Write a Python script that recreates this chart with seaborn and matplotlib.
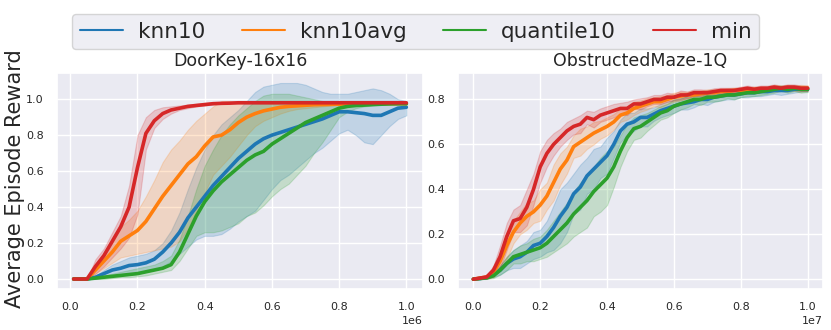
import numpy as np
import pandas as pd
import matplotlib
matplotlib.use("Agg")
import matplotlib.pyplot as plt
import seaborn as sns

# ---------------- data: DoorKey-16x16 (x in 1e6 steps) ----------------
x_door = [0.01, 0.05, 0.075, 0.1, 0.125, 0.15, 0.175, 0.2, 0.225, 0.25,
          0.275, 0.3, 0.325, 0.35, 0.375, 0.4, 0.425, 0.45, 0.475, 0.5,
          0.525, 0.55, 0.575, 0.6, 0.625, 0.65, 0.675, 0.7, 0.725, 0.75,
          0.775, 0.8, 0.825, 0.85, 0.875, 0.9, 0.925, 0.95, 0.975, 1.0]

door_knn10 = [0, 0, 0.01, 0.03, 0.05, 0.06, 0.075, 0.08, 0.09, 0.11,
              0.15, 0.20, 0.26, 0.34, 0.40, 0.46, 0.52, 0.57, 0.62, 0.67,
              0.71, 0.75, 0.78, 0.80, 0.815, 0.83, 0.845, 0.86, 0.875, 0.89,
              0.91, 0.93, 0.93, 0.925, 0.92, 0.91, 0.91, 0.93, 0.95, 0.955]
door_knn10_lo = [0, 0, 0, 0.01, 0.02, 0.02, 0.03, 0.03, 0.04, 0.05,
                 0.07, 0.10, 0.14, 0.18, 0.22, 0.24, 0.24, 0.25, 0.28, 0.32,
                 0.35, 0.38, 0.44, 0.50, 0.55, 0.58, 0.62, 0.66, 0.70, 0.73,
                 0.77, 0.81, 0.83, 0.80, 0.76, 0.75, 0.80, 0.85, 0.89, 0.91]
door_knn10_hi = [0, 0, 0.02, 0.05, 0.08, 0.10, 0.12, 0.13, 0.14, 0.16,
                 0.20, 0.27, 0.37, 0.50, 0.62, 0.72, 0.80, 0.86, 0.90, 0.94,
                 0.99, 1.04, 1.07, 1.08, 1.09, 1.09, 1.09, 1.08, 1.06, 1.04,
                 1.03, 1.03, 1.03, 1.04, 1.05, 1.06, 1.05, 1.03, 1.00, 0.99]

door_knn10avg = [0, 0, 0.05, 0.10, 0.15, 0.21, 0.24, 0.27, 0.32, 0.39,
                 0.46, 0.52, 0.58, 0.64, 0.68, 0.74, 0.79, 0.80, 0.83, 0.87,
                 0.90, 0.92, 0.935, 0.945, 0.955, 0.96, 0.963, 0.966, 0.969, 0.97,
                 0.971, 0.972, 0.973, 0.973, 0.974, 0.974, 0.975, 0.975, 0.975, 0.975]
door_knn10avg_lo = [0, 0, 0.03, 0.06, 0.09, 0.12, 0.13, 0.14, 0.15, 0.16,
                    0.17, 0.18, 0.21, 0.28, 0.38, 0.48, 0.58, 0.63, 0.68, 0.74,
                    0.80, 0.85, 0.88, 0.90, 0.92, 0.935, 0.945, 0.95, 0.955, 0.96,
                    0.965, 0.97, 0.971, 0.972, 0.972, 0.972, 0.972, 0.972, 0.972, 0.972]
door_knn10avg_hi = [0, 0, 0.07, 0.13, 0.20, 0.29, 0.33, 0.38, 0.46, 0.55,
                    0.65, 0.72, 0.77, 0.83, 0.88, 0.92, 0.96, 0.99, 0.99, 0.985,
                    0.98, 0.98, 0.98, 0.98, 0.98, 0.98, 0.98, 0.98, 0.98, 0.98,
                    0.978, 0.978, 0.978, 0.978, 0.978, 0.978, 0.978, 0.978, 0.978, 0.978]

door_quantile10 = [0, 0, 0.005, 0.01, 0.015, 0.02, 0.025, 0.03, 0.04, 0.05,
                   0.06, 0.08, 0.15, 0.25, 0.35, 0.43, 0.49, 0.54, 0.58, 0.62,
                   0.66, 0.69, 0.71, 0.75, 0.78, 0.81, 0.84, 0.87, 0.89, 0.91,
                   0.93, 0.95, 0.96, 0.965, 0.967, 0.97, 0.972, 0.974, 0.975, 0.975]
door_quantile10_lo = [0, 0, 0, 0, 0.005, 0.01, 0.01, 0.015, 0.02, 0.03,
                      0.04, 0.05, 0.10, 0.17, 0.24, 0.26, 0.26, 0.27, 0.29, 0.31,
                      0.35, 0.37, 0.41, 0.46, 0.50, 0.53, 0.58, 0.63, 0.70, 0.76,
                      0.83, 0.90, 0.93, 0.95, 0.96, 0.965, 0.97, 0.97, 0.97, 0.97]
door_quantile10_hi = [0, 0, 0.01, 0.02, 0.03, 0.04, 0.05, 0.06, 0.07, 0.08,
                      0.10, 0.13, 0.22, 0.35, 0.50, 0.63, 0.72, 0.80, 0.86, 0.91,
                      0.95, 0.99, 1.02, 1.03, 1.03, 1.03, 1.02, 1.01, 1.00, 0.99,
                      0.985, 0.98, 0.98, 0.98, 0.98, 0.98, 0.98, 0.98, 0.98, 0.98]

door_min = [0, 0, 0.07, 0.13, 0.21, 0.29, 0.40, 0.62, 0.81, 0.88,
            0.92, 0.94, 0.95, 0.96, 0.965, 0.97, 0.975, 0.977, 0.978, 0.98,
            0.98, 0.98, 0.98, 0.98, 0.98, 0.98, 0.98, 0.98, 0.98, 0.98,
            0.98, 0.98, 0.98, 0.98, 0.98, 0.98, 0.98, 0.98, 0.98, 0.98]
door_min_lo = [0, 0, 0.03, 0.07, 0.12, 0.17, 0.23, 0.36, 0.72, 0.84,
               0.89, 0.92, 0.94, 0.95, 0.96, 0.965, 0.97, 0.975, 0.977, 0.978,
               0.978, 0.978, 0.978, 0.978, 0.978, 0.978, 0.978, 0.978, 0.978, 0.978,
               0.978, 0.978, 0.978, 0.978, 0.978, 0.978, 0.978, 0.978, 0.978, 0.978]
door_min_hi = [0, 0, 0.11, 0.17, 0.26, 0.35, 0.52, 0.80, 0.90, 0.94,
               0.955, 0.96, 0.965, 0.97, 0.975, 0.98, 0.982, 0.982, 0.982, 0.982,
               0.982, 0.982, 0.982, 0.982, 0.982, 0.982, 0.982, 0.982, 0.982, 0.982,
               0.982, 0.982, 0.982, 0.982, 0.982, 0.982, 0.982, 0.982, 0.982, 0.982]

# ---------------- data: ObstructedMaze-1Q (x in 1e7 steps) ----------------
x_maze = [0.0, 0.02, 0.04, 0.06, 0.08, 0.10, 0.12, 0.14, 0.16, 0.18,
          0.20, 0.22, 0.24, 0.26, 0.28, 0.30, 0.32, 0.34, 0.36, 0.38,
          0.40, 0.42, 0.44, 0.46, 0.48, 0.50, 0.52, 0.54, 0.56, 0.58,
          0.60, 0.62, 0.64, 0.66, 0.68, 0.70, 0.72, 0.74, 0.76, 0.78,
          0.80, 0.82, 0.84, 0.86, 0.88, 0.90, 0.92, 0.94, 0.96, 0.98, 1.0]

maze_knn10 = [0, 0.003, 0.008, 0.02, 0.04, 0.07, 0.09, 0.10, 0.12, 0.15,
              0.16, 0.19, 0.23, 0.28, 0.32, 0.38, 0.41, 0.46, 0.49, 0.52,
              0.55, 0.60, 0.66, 0.69, 0.70, 0.72, 0.72, 0.735, 0.75, 0.76,
              0.77, 0.78, 0.785, 0.79, 0.80, 0.80, 0.81, 0.815, 0.82, 0.82,
              0.825, 0.83, 0.83, 0.835, 0.835, 0.84, 0.84, 0.84, 0.845, 0.845, 0.845]
maze_knn10_sd = [0, 0.003, 0.006, 0.01, 0.02, 0.03, 0.04, 0.05, 0.05, 0.06,
                 0.06, 0.07, 0.10, 0.12, 0.11, 0.09, 0.10, 0.08, 0.09, 0.07,
                 0.08, 0.06, 0.05, 0.05, 0.04, 0.04, 0.04, 0.03, 0.03, 0.03,
                 0.03, 0.025, 0.03, 0.025, 0.02, 0.025, 0.02, 0.02, 0.02, 0.02,
                 0.015, 0.02, 0.015, 0.02, 0.015, 0.015, 0.02, 0.015, 0.015, 0.01, 0.01]

maze_knn10avg = [0, 0.005, 0.01, 0.03, 0.08, 0.15, 0.21, 0.25, 0.28, 0.30,
                 0.33, 0.37, 0.43, 0.49, 0.53, 0.59, 0.61, 0.63, 0.65, 0.665,
                 0.68, 0.70, 0.73, 0.74, 0.76, 0.77, 0.78, 0.79, 0.79, 0.80,
                 0.81, 0.815, 0.82, 0.82, 0.825, 0.83, 0.83, 0.835, 0.835, 0.84,
                 0.84, 0.84, 0.845, 0.845, 0.845, 0.85, 0.85, 0.85, 0.85, 0.85, 0.85]
maze_knn10avg_sd = [0, 0.004, 0.008, 0.02, 0.04, 0.06, 0.05, 0.05, 0.06, 0.05,
                    0.07, 0.06, 0.08, 0.07, 0.06, 0.05, 0.06, 0.05, 0.05, 0.04,
                    0.04, 0.035, 0.03, 0.03, 0.03, 0.025, 0.025, 0.02, 0.025, 0.02,
                    0.02, 0.02, 0.015, 0.02, 0.015, 0.015, 0.015, 0.012, 0.015, 0.012,
                    0.012, 0.012, 0.012, 0.012, 0.012, 0.015, 0.012, 0.015, 0.012, 0.015, 0.012]

maze_quantile10 = [0, 0.003, 0.006, 0.015, 0.04, 0.07, 0.10, 0.11, 0.12, 0.13,
                   0.14, 0.16, 0.19, 0.22, 0.25, 0.29, 0.32, 0.35, 0.39, 0.42,
                   0.45, 0.50, 0.57, 0.63, 0.67, 0.68, 0.70, 0.72, 0.74, 0.75,
                   0.77, 0.78, 0.79, 0.80, 0.80, 0.81, 0.81, 0.815, 0.82, 0.82,
                   0.825, 0.83, 0.83, 0.835, 0.84, 0.845, 0.85, 0.845, 0.85, 0.845, 0.845]
maze_quantile10_sd = [0, 0.003, 0.005, 0.01, 0.02, 0.03, 0.03, 0.04, 0.04, 0.05,
                      0.05, 0.06, 0.07, 0.08, 0.09, 0.10, 0.11, 0.12, 0.11, 0.12,
                      0.12, 0.09, 0.07, 0.06, 0.05, 0.05, 0.04, 0.035, 0.03, 0.03,
                      0.03, 0.025, 0.025, 0.02, 0.025, 0.02, 0.02, 0.02, 0.015, 0.02,
                      0.015, 0.015, 0.015, 0.015, 0.015, 0.015, 0.012, 0.015, 0.012, 0.015, 0.012]

maze_min = [0, 0.005, 0.01, 0.04, 0.10, 0.19, 0.26, 0.27, 0.32, 0.40,
            0.50, 0.56, 0.60, 0.63, 0.66, 0.68, 0.69, 0.72, 0.71, 0.73,
            0.74, 0.75, 0.76, 0.76, 0.78, 0.78, 0.79, 0.80, 0.80, 0.81,
            0.81, 0.82, 0.82, 0.83, 0.83, 0.83, 0.835, 0.84, 0.84, 0.84,
            0.845, 0.85, 0.845, 0.85, 0.85, 0.855, 0.85, 0.855, 0.855, 0.85, 0.85]
maze_min_sd = [0, 0.004, 0.008, 0.02, 0.05, 0.06, 0.05, 0.06, 0.08, 0.07,
               0.07, 0.06, 0.05, 0.04, 0.04, 0.035, 0.04, 0.03, 0.035, 0.03,
               0.03, 0.03, 0.025, 0.03, 0.02, 0.025, 0.02, 0.02, 0.02, 0.02,
               0.015, 0.02, 0.015, 0.015, 0.015, 0.012, 0.015, 0.012, 0.012, 0.012,
               0.012, 0.012, 0.012, 0.012, 0.012, 0.012, 0.012, 0.012, 0.012, 0.012, 0.012]

labels = ["knn10", "knn10avg", "quantile10", "min"]
colors = ["#1f77b4", "#ff7f0e", "#2ca02c", "#d62728"]

sns.set_theme(style="darkgrid")
plt.rcParams['font.family'] = ['DejaVu Sans']

fig = plt.figure(figsize=(8.31, 3.30), dpi=100)
ax1 = fig.add_axes([0.0686, 0.124, 0.4404, 0.655])
ax2 = fig.add_axes([0.5511, 0.124, 0.4393, 0.655])

door_series = [(door_knn10, door_knn10_lo, door_knn10_hi),
               (door_knn10avg, door_knn10avg_lo, door_knn10avg_hi),
               (door_quantile10, door_quantile10_lo, door_quantile10_hi),
               (door_min, door_min_lo, door_min_hi)]
maze_series = [(maze_knn10, maze_knn10_sd), (maze_knn10avg, maze_knn10avg_sd),
               (maze_quantile10, maze_quantile10_sd), (maze_min, maze_min_sd)]

xd = np.array(x_door) * 1e6
xm = np.array(x_maze) * 1e7

frames = []
for lab, (m, lo, hi) in zip(labels, door_series):
    ax1.fill_between(xd, lo, hi, color=colors[labels.index(lab)], alpha=0.2, linewidth=0.8)
    frames.append(pd.DataFrame({"step": xd, "reward": m, "method": lab}))
df_door = pd.concat(frames)
sns.lineplot(data=df_door, x="step", y="reward", hue="method", palette=colors,
             hue_order=labels, linewidth=2.6, ax=ax1, legend=False)

frames = []
for lab, (m, sd) in zip(labels, maze_series):
    m = np.array(m); sd = np.array(sd)
    ax2.fill_between(xm, m - sd, m + sd, color=colors[labels.index(lab)], alpha=0.2, linewidth=0.8)
    frames.append(pd.DataFrame({"step": xm, "reward": m, "method": lab}))
df_maze = pd.concat(frames)
sns.lineplot(data=df_maze, x="step", y="reward", hue="method", palette=colors,
             hue_order=labels, linewidth=2.6, ax=ax2, legend=False)

for ax, title in [(ax1, "DoorKey-16x16"), (ax2, "ObstructedMaze-1Q")]:
    ax.set_title(title, fontsize=12.5, color="#262626", pad=5)
    ax.set_xlabel("")
    ax.set_ylabel("")
    ax.tick_params(labelsize=8, colors="#262626")
    ax.xaxis.get_offset_text().set_fontsize(8)

ax1.set_xticks(np.array([0, 0.2, 0.4, 0.6, 0.8, 1.0]) * 1e6)
ax2.set_xticks(np.array([0, 0.2, 0.4, 0.6, 0.8, 1.0]) * 1e7)
ax1.set_xlim(-0.0395e6, 1.0495e6)
ax1.set_ylim(-0.056, 1.146)
ax1.set_yticks([0, 0.2, 0.4, 0.6, 0.8, 1.0])
ax2.set_xlim(-0.046e7, 1.046e7)
ax2.set_ylim(-0.044, 0.918)
ax2.set_yticks([0, 0.2, 0.4, 0.6, 0.8])

fig.text(0.018, 0.46, "Average Episode Reward", rotation=90, fontsize=15,
         va="center", ha="center", color="#262626")

handles = [plt.Line2D([], [], color=c, linewidth=1.5) for c in colors]
fig.legend(handles, labels, loc="upper center", bbox_to_anchor=(0.5, 0.99),
           ncol=4, fontsize=15.5, frameon=True, handlelength=2.0,
           handletextpad=0.7, columnspacing=1.7, borderpad=0.35)

fig.savefig("out.png", dpi=100)
